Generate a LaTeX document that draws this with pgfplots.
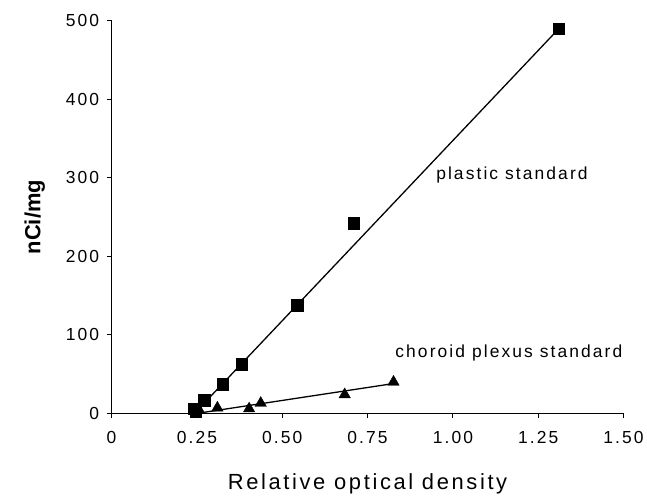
\documentclass[border=0pt]{standalone}
\usepackage{pgfplots}
\pgfplotsset{compat=1.18}
\usepackage{fontspec}
\setmainfont{Liberation Sans}
\newfontfamily\spaced[LetterSpace=12]{Liberation Sans}
\begin{document}
\begin{tikzpicture}[x=1pt,y=1pt]
\begin{axis}[
  scale only axis,
  width=514pt, height=394pt,
  xmin=0, xmax=1.5, ymin=0, ymax=500,
  axis x line*=bottom, axis y line*=left,
  axis line style={line width=1.2pt},
  tick align=outside, major tick length=5pt,
  tick style={line width=1pt, black},
  xtick={0,0.25,0.5,0.75,1,1.25,1.5},
  xticklabels={0,0.25,0.50,0.75,1.00,1.25,1.50},
  ytick={0,100,200,300,400,500},
  /pgf/number format/assume math mode=true,
  tick label style={font=\fontsize{17.5}{19}\selectfont\spaced},
  xticklabel style={yshift=-9pt},
  yticklabel style={xshift=-4pt},
  xlabel={Relative optical density},
  xlabel style={font=\fontsize{22}{24}\selectfont\spaced, yshift=-24pt},
  ylabel={\textbf{nCi/mg}},
  ylabel style={font=\fontsize{22}{24}\selectfont, yshift=14pt},
  clip=false,
]
% regression lines
\addplot[black, line width=1.3pt] coordinates {(0.243,0) (1.31,490)};
\addplot[black, line width=1.3pt] coordinates {(0.25,0) (0.826,38)};
% plastic standard
\addplot[only marks, mark=square*, mark size=5.8pt, black] coordinates {
(0.240,6) (0.247,2) (0.271,17) (0.325,37) (0.381,63) (0.544,138) (0.71,242) (1.31,490)
};
% choroid plexus standard
\addplot[only marks, mark=triangle*, mark size=6.6pt, black] coordinates {
(0.257,4) (0.310,7) (0.403,6) (0.437,13) (0.683,24) (0.826,40)
};
\node[font=\fontsize{17.5}{19}\selectfont\spaced] at (axis cs:1.173,304) {plastic standard};
\node[font=\fontsize{17.5}{19}\selectfont\spaced] at (axis cs:1.164,77) {choroid plexus standard};
\end{axis}
\path (current axis.south west) ++(-112pt,-82pt) coordinate (bl);
\path (current axis.north east) ++(21pt,21pt) coordinate (tr);
\useasboundingbox (bl) rectangle (tr);
\end{tikzpicture}
\end{document}
